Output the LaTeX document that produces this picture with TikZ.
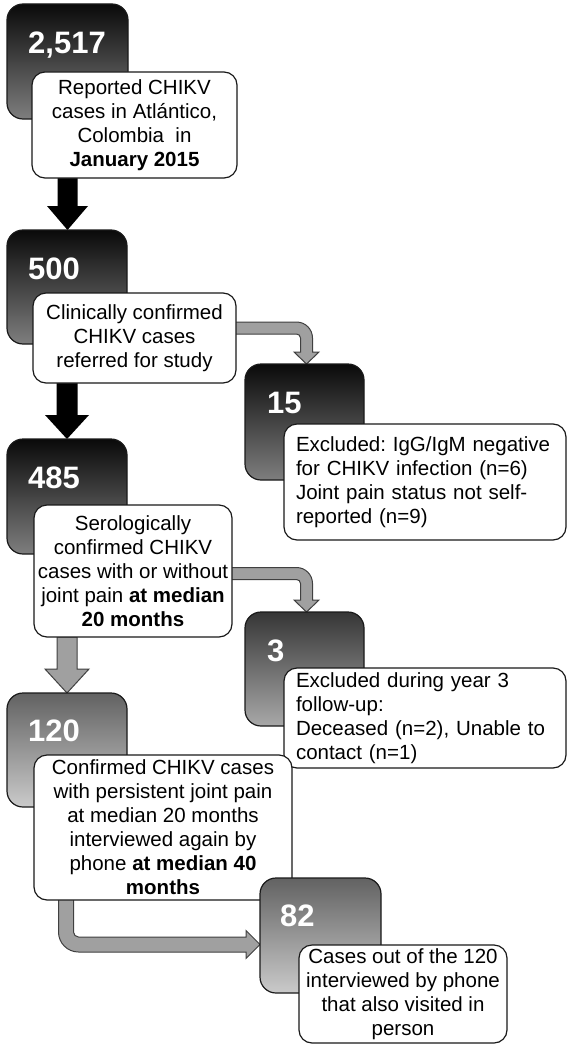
\documentclass[tikz,border=0pt]{standalone}
\usepackage{fontspec}
\setmainfont{Liberation Sans}
\usetikzlibrary{calc}
\frenchspacing
\pgfdeclarelayer{bg}
\pgfsetlayers{bg,main}
\definecolor{edge}{HTML}{1A1A1A}
\definecolor{dkTop}{HTML}{0A0A0A}
\definecolor{dkBot}{HTML}{7E7E7E}
\definecolor{mdTop}{HTML}{363636}
\definecolor{mdBot}{HTML}{A8A8A8}
\definecolor{ltTop}{HTML}{626262}
\definecolor{ltBot}{HTML}{CACACA}
\definecolor{arrGray}{HTML}{A0A0A0}
\definecolor{arrEdge}{HTML}{404040}
\newcommand\dnarrow[6]{%
  \path[#1] let \p1=(#2), \p2=(#3), \p3=(#4) in
    (\x1-#5,\y2) -- (\x1+#5,\y2) -- (\x1+#5,\y3+24pt) -- (\x1+#6,\y3+24pt)
    -- (\x1,\y3) -- (\x1-#6,\y3+24pt) -- (\x1-#5,\y3+24pt) -- cycle;}
\newcommand\rdarrow[2]{%
  \path[bentarrow] let \p1=(#1), \p2=(#2) in
    (\x1,\y1+6pt) -- (\x2-10pt,\y1+6pt) arc[start angle=90,end angle=0,radius=16pt]
    -- (\x2+6pt,\y2+12pt) -- (\x2+12.5pt,\y2+12pt) -- (\x2,\y2) -- (\x2-12.5pt,\y2+12pt)
    -- (\x2-6pt,\y2+12pt) -- (\x2-6pt,\y1-10pt) arc[start angle=0,end angle=90,radius=4pt]
    -- (\x1,\y1-6pt) -- cycle;}
\begin{document}
\begin{tikzpicture}[x=1pt,y=-1pt,
  darkbox/.style={draw=edge, line width=1.2pt, rounded corners=16pt, outer sep=0pt, inner sep=0pt},
  wbox/.style={draw=edge, fill=white, line width=1.2pt, rounded corners=13pt, outer sep=0pt,
    inner sep=3pt, align=center, font=\fontsize{20.5}{24}\selectfont},
  lbox/.style={wbox, align=left, text width=258pt, inner xsep=12pt},
  num/.style={anchor=west, inner sep=0pt, text=white, font=\fontsize{31}{31}\selectfont\bfseries,
    text height=22pt, text depth=0pt},
  blackarrow/.style={fill=black},
  grayarrow/.style={fill=arrGray, draw=arrEdge, line width=1pt},
  bentarrow/.style={fill=arrGray, draw=arrEdge, line width=1pt}]
\useasboundingbox (0,0) rectangle (574,1049);

\node[darkbox, minimum width=121pt, minimum height=115pt, top color=dkTop, bottom color=dkBot] (d1) at (67.5,61.5) {};
\node[num] (n1) at ([xshift=21pt,yshift=-38pt]d1.north west) {2,517};
\node[wbox, minimum width=205pt, minimum height=106pt] (w1) at (134.5,125)
  {Reported CHIKV\\cases in Atlántico,\\Colombia\ \ in\\\textbf{January 2015}};

\node[darkbox, minimum width=120pt, minimum height=114pt, top color=dkTop, bottom color=dkBot] (d2) at (67,287) {};
\node[num] (n2) at ([xshift=21pt,yshift=-38pt]d2.north west) {500};
\node[wbox, minimum width=203pt, minimum height=90pt] (w2) at (134.5,338)
  {Clinically confirmed\\CHIKV cases\\referred for study};

\node[darkbox, minimum width=119pt, minimum height=116pt, top color=dkTop, bottom color=dkBot] (d3) at (304.5,422) {};
\node[num] (n3) at ([xshift=22pt,yshift=-38pt]d3.north west) {15};
\node[lbox, minimum height=116pt] (w3) at (425,482)
  {Excluded: IgG/IgM negative\\for CHIKV infection (n=6)\\Joint pain status not self-\\reported (n=9)};

\node[darkbox, minimum width=120pt, minimum height=115pt, top color=dkTop, bottom color=dkBot] (d4) at (67,496.5) {};
\node[num] (n4) at ([xshift=21pt,yshift=-38pt]d4.north west) {485};
\node[wbox, minimum width=198pt, minimum height=132pt] (w4) at (133,571)
  {Serologically\\confirmed CHIKV\\cases with or without\\joint pain \textbf{at median}\\\textbf{20 months}};

\node[darkbox, minimum width=119pt, minimum height=114pt, top color=mdTop, bottom color=mdBot] (d5) at (304.5,669) {};
\node[num] (n5) at ([xshift=22pt,yshift=-38pt]d5.north west) {3};
\node[lbox, minimum height=100pt] (w5) at (425,718)
  {Excluded during year 3\\follow-up:\\Deceased (n=2), Unable to\\contact (n=1)};

\node[darkbox, minimum width=120pt, minimum height=114pt, top color=ltTop, bottom color=ltBot] (d6) at (67,750) {};
\node[num] (n6) at ([xshift=21pt,yshift=-37pt]d6.north west) {120};
\node[wbox, minimum width=258pt, minimum height=145pt] (w6) at (163,827.5)
  {Confirmed CHIKV cases\\with persistent joint pain\\at median 20 months\\interviewed again by\\phone \textbf{at median 40}\\\textbf{months}};

\node[darkbox, minimum width=121pt, minimum height=115pt, top color=ltTop, bottom color=ltBot] (d7) at (320.5,935.5) {};
\node[num] (n7) at ([xshift=20pt,yshift=-37pt]d7.north west) {82};
\node[wbox, minimum width=208pt, minimum height=98pt] (w7) at (403,994)
  {Cases out of the 120\\interviewed by phone\\that also visited in\\person};

\coordinate (s1) at ([xshift=-8pt,yshift=10pt]w2.east);
\coordinate (t1) at ([xshift=61.5pt]d3.north west);
\coordinate (s2) at ([xshift=-8pt,yshift=-2.5pt]w4.east);
\coordinate (t2) at ([xshift=61.5pt]d5.north west);
\coordinate (s4) at ([xshift=-97pt,yshift=5pt]w6.south);
\coordinate (t4) at ([yshift=-9pt]d7.west);

\begin{pgfonlayer}{bg}
  \fill[white] (0,0) rectangle (574,1049);
  \dnarrow{blackarrow}{d1.center}{w1.south}{d2.north}{10pt}{20.5pt}
  \dnarrow{blackarrow}{d2.center}{w2.south}{d4.north}{10.5pt}{22pt}
  \dnarrow{grayarrow}{d4.center}{w4.south}{d6.north}{10pt}{22pt}
  \rdarrow{s1}{t1}
  \rdarrow{s2}{t2}
  \path[bentarrow] let \p1=(s4), \p2=(t4) in
    (\x1-7.5pt,\y1) -- (\x1-7.5pt,\y2+12.5pt) arc[start angle=180,end angle=270,radius=20pt]
    -- (\x2-14pt,\y2-7.5pt) -- (\x2-14pt,\y2-14pt) -- (\x2,\y2) -- (\x2-14pt,\y2+14pt)
    -- (\x2-14pt,\y2+7.5pt) -- (\x1+12.5pt,\y2+7.5pt) arc[start angle=270,end angle=180,radius=5pt]
    -- (\x1+7.5pt,\y1) -- cycle;
\end{pgfonlayer}
\end{tikzpicture}
\end{document}
